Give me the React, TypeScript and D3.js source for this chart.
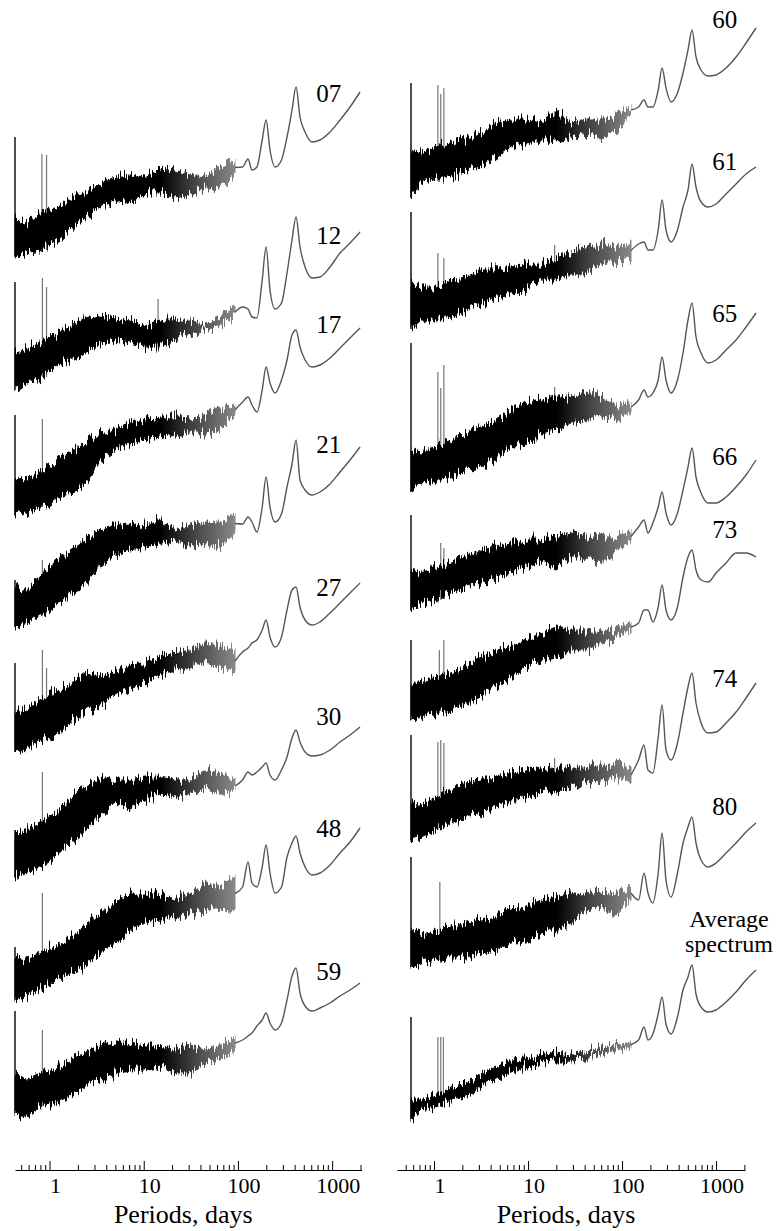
import * as d3 from 'd3';
import { useEffect, useRef } from 'react';

// periods (days) at which the noisy band was read, and the smooth part
const BAND_PERIODS = [0.43, 0.55, 0.79, 1.14, 1.65, 2.38, 3.44, 4.96, 7.16, 10.3, 14.9, 21.5, 31.0, 44.8, 64.6, 93.1];
const LINE_PERIODS = [112, 128, 141, 159, 181, 199, 219, 248, 290, 332, 375, 414, 456, 516, 612, 744, 950, 1213, 1549, 1977];

// spectrum levels in arbitrary log units, relative to each trace's own offset
const lo07 = [-1.7, -1.3, -1.0, -0.2, 1.0, 2.3, 3.2, 4.0, 3.7, 4.7, 4.7, 4.2, 4.5, 5.2, 5.3, 6.5];
const hi07 = [2.0, 1.7, 2.7, 3.0, 4.0, 4.8, 5.7, 6.3, 6.5, 6.3, 7.2, 7.0, 6.5, 6.3, 7.3, 8.0];
const line07 = [7.3, 8.1, 7.0, 7.3, 10.0, 12.0, 9.0, 7.3, 8.0, 10.3, 13.0, 15.3, 12.3, 10.8, 9.8, 10.0, 10.8, 12.0, 13.3, 14.8];
const spikes07 = [[0.43, 10.3], [0.83, 8.6], [0.93, 8.5]];

const lo12 = [-2.0, -1.3, -0.7, 0.3, 1.0, 1.7, 2.7, 3.0, 2.7, 2.3, 2.3, 3.0, 3.5, 4.0, 4.5, 5.3];
const hi12 = [1.8, 2.0, 2.7, 3.5, 4.3, 5.2, 5.5, 5.2, 5.0, 4.3, 5.0, 5.0, 5.0, 4.5, 5.2, 6.3];
const line12 = [6.3, 6.1, 5.3, 5.2, 9.0, 12.3, 8.0, 6.1, 6.7, 9.7, 13.0, 15.3, 12.3, 10.3, 9.2, 9.3, 10.3, 11.7, 12.7, 13.8];
const spikes12 = [[0.43, 8.8], [0.84, 9.2], [0.93, 8.3], [14.2, 7.1]];

const lo17 = [-1.8, -1.5, -1.0, -0.3, 0.4, 1.0, 3.7, 4.7, 5.4, 5.7, 6.0, 6.4, 6.4, 6.4, 6.7, 8.2];
const hi17 = [1.9, 1.7, 2.4, 3.4, 4.4, 5.4, 6.4, 6.7, 7.4, 7.7, 8.0, 8.0, 7.9, 8.0, 8.9, 9.2];
const line17 = [9.5, 10.0, 9.2, 8.5, 10.7, 13.0, 11.4, 10.4, 11.7, 13.7, 16.2, 16.7, 15.0, 13.7, 13.0, 13.2, 13.9, 14.9, 15.9, 16.9];
const spikes17 = [[0.43, 8.2], [0.84, 7.8]];

const lo21 = [-2.0, -1.7, -0.7, 0.0, 1.3, 2.3, 4.0, 5.3, 5.7, 6.0, 6.3, 6.5, 6.0, 6.3, 6.0, 7.7];
const hi21 = [2.0, 1.7, 3.0, 4.3, 5.7, 6.7, 7.7, 8.2, 8.3, 8.0, 8.7, 7.7, 8.2, 8.5, 8.5, 9.0];
const line21 = [8.3, 9.0, 8.5, 7.5, 10.0, 13.0, 10.0, 8.5, 9.3, 12.0, 14.3, 16.7, 12.7, 11.7, 11.2, 11.5, 12.3, 13.5, 14.7, 16.0];
const spikes21 = [[0.43, 2.7], [0.84, 4.7]];

const lo27 = [-2.0, -1.8, -0.8, -0.5, 0.9, 1.9, 2.7, 3.7, 4.4, 5.0, 5.7, 6.2, 6.5, 6.9, 6.5, 6.0];
const hi27 = [1.9, 2.2, 3.2, 3.9, 4.9, 5.9, 5.6, 5.9, 6.5, 6.9, 7.5, 7.9, 8.2, 8.9, 8.5, 8.2];
const line27 = [8.0, 8.4, 8.9, 9.2, 10.2, 11.2, 9.5, 8.5, 9.5, 12.2, 14.2, 14.5, 12.5, 11.2, 10.7, 11.0, 11.9, 12.9, 13.9, 14.9];
const spikes27 = [[0.43, 6.9], [0.84, 8.2], [0.93, 6.4]];

const lo30 = [-2.2, -1.8, -1.2, -0.2, 1.2, 2.5, 3.8, 5.2, 4.8, 5.5, 6.2, 5.8, 6.2, 6.8, 6.2, 6.3];
const hi30 = [2.2, 2.5, 3.2, 4.2, 5.5, 6.8, 7.8, 7.5, 7.5, 7.8, 7.8, 7.5, 7.5, 8.5, 8.2, 7.5];
const line30 = [7.5, 8.3, 8.0, 8.3, 8.8, 9.2, 8.0, 7.5, 8.5, 9.8, 11.7, 12.5, 11.3, 10.3, 9.9, 10.0, 10.5, 11.3, 12.0, 12.8];
const spikes30 = [[0.43, 2.5], [0.84, 8.3]];

const lo48 = [-2.2, -1.9, -1.2, -0.2, 0.5, 1.1, 2.5, 3.5, 4.8, 5.6, 5.8, 6.1, 6.5, 6.8, 7.1, 6.8];
const hi48 = [2.1, 1.8, 2.5, 3.1, 4.1, 5.1, 6.5, 7.5, 8.5, 8.5, 8.3, 7.8, 8.5, 9.5, 8.8, 10.1];
const line48 = [9.1, 11.6, 9.5, 9.1, 11.1, 13.3, 10.5, 8.5, 9.1, 12.1, 13.5, 14.2, 12.5, 11.1, 10.3, 10.5, 11.3, 12.5, 13.6, 15.0];
const spikes48 = [[0.43, 3.1], [0.84, 8.5]];

const lo59 = [-2.0, -2.3, -1.3, -1.0, -0.3, 0.7, 1.3, 2.0, 2.3, 2.3, 2.7, 2.0, 2.0, 3.0, 3.3, 4.3];
const hi59 = [2.0, 1.3, 2.0, 2.3, 3.3, 4.0, 4.7, 5.0, 5.0, 4.7, 4.7, 4.3, 4.7, 4.3, 4.7, 5.7];
const line59 = [5.3, 5.7, 6.0, 6.7, 7.3, 8.0, 7.0, 6.3, 7.0, 9.3, 11.7, 12.5, 10.0, 8.7, 8.2, 8.5, 9.0, 9.7, 10.3, 11.0];
const spikes59 = [[0.43, 8.2], [0.84, 6.3]];

const lo60 = [-2.7, -1.3, -0.7, -0.7, 0.0, 0.3, 1.3, 2.3, 2.7, 3.0, 3.0, 3.3, 3.7, 3.3, 3.7, 5.7];
const hi60 = [2.0, 1.7, 2.3, 2.7, 3.0, 3.7, 4.7, 5.0, 5.0, 4.7, 5.7, 4.7, 5.0, 5.0, 5.3, 6.3];
const line60 = [6.3, 7.0, 6.3, 6.3, 8.0, 10.2, 8.2, 6.8, 7.7, 9.7, 12.0, 14.0, 11.3, 10.0, 9.4, 9.5, 10.2, 11.3, 12.7, 14.2];
const spikes60 = [[0.43, 8.7], [0.83, 8.5], [0.89, 7.6], [0.96, 8.2], [14.4, 5.9]];

const lo61 = [-2.2, -1.3, -1.3, -1.0, -0.3, 0.3, 1.0, 1.3, 1.7, 2.7, 2.7, 3.3, 3.3, 4.3, 4.5, 5.0];
const hi61 = [2.3, 2.0, 2.0, 2.7, 3.0, 3.7, 3.7, 4.0, 4.3, 4.3, 5.0, 5.5, 6.0, 6.2, 6.0, 6.3];
const line61 = [6.3, 6.5, 5.7, 5.7, 7.7, 10.7, 7.7, 6.5, 7.7, 10.0, 11.7, 14.3, 12.0, 10.5, 10.0, 10.3, 11.3, 12.3, 13.3, 14.0];
const spikes61 = [[0.43, 9.5], [0.83, 5.4], [0.96, 4.9], [14.4, 6.2]];

const lo65 = [-2.1, -1.2, -0.9, -0.6, 0.1, 0.4, 1.4, 2.4, 2.8, 3.8, 4.1, 4.8, 5.1, 5.6, 5.1, 6.0];
const hi65 = [2.1, 1.8, 2.4, 3.1, 3.8, 4.4, 5.1, 6.1, 6.8, 7.1, 7.4, 7.4, 7.8, 7.4, 6.6, 6.8];
const line65 = [7.1, 8.1, 7.4, 7.8, 9.1, 11.4, 9.1, 7.8, 9.1, 11.8, 15.1, 16.8, 13.4, 11.8, 10.8, 11.1, 12.1, 13.1, 14.4, 15.8];
const spikes65 = [[0.43, 12.8], [0.83, 9.9], [0.89, 8.3], [0.96, 10.6], [14.4, 8.4]];

const lo66 = [-2.0, -1.3, -1.0, -0.3, 0.3, 0.7, 1.3, 1.7, 2.3, 2.7, 2.3, 3.3, 3.3, 2.7, 4.0, 4.7];
const hi66 = [2.0, 1.7, 2.3, 3.0, 3.3, 4.0, 4.3, 4.7, 5.0, 5.0, 5.3, 5.7, 5.3, 5.3, 5.3, 6.0];
const line66 = [6.3, 7.0, 5.7, 6.7, 8.3, 9.8, 7.7, 6.5, 7.7, 10.0, 12.3, 14.2, 11.3, 9.7, 8.7, 8.7, 9.3, 10.3, 11.5, 13.0];
const spikes66 = [[0.43, 7.5], [0.89, 4.7], [0.96, 4.2], [19.6, 5.8]];

const lo73 = [-1.9, -1.6, -1.2, -0.9, -0.2, 0.4, 1.4, 2.4, 3.4, 4.1, 4.4, 5.1, 5.1, 5.8, 6.1, 7.1];
const hi73 = [1.8, 1.8, 2.4, 2.8, 3.4, 4.4, 5.1, 5.4, 6.1, 6.8, 7.4, 7.1, 7.1, 6.8, 7.4, 7.7];
const line73 = [7.8, 9.1, 9.1, 7.9, 9.4, 11.6, 9.1, 8.1, 9.4, 12.4, 14.4, 15.1, 13.1, 12.1, 11.9, 12.8, 13.8, 14.8, 14.8, 14.4];
const spikes73 = [[0.43, 6.1], [0.86, 5.1], [0.96, 6.1]];

const lo74 = [-2.0, -1.7, -1.0, -0.3, 0.3, 0.7, 1.3, 2.0, 2.3, 2.7, 3.0, 3.3, 3.7, 4.0, 4.3, 3.7];
const hi74 = [2.0, 1.3, 2.3, 3.0, 3.7, 4.0, 4.3, 4.7, 5.0, 5.3, 5.0, 5.3, 5.3, 5.3, 5.7, 5.3];
const line74 = [6.0, 7.5, 5.0, 4.7, 8.3, 11.5, 7.0, 6.0, 7.7, 10.7, 13.3, 14.7, 11.7, 9.7, 8.7, 8.8, 9.7, 10.8, 12.2, 13.7];
const spikes74 = [[0.43, 8.5], [0.83, 7.8], [0.89, 8.0], [0.96, 7.7], [14.4, 6.2]];

const lo80 = [-1.9, -1.5, -1.2, -0.9, -0.9, -0.5, -0.2, 0.5, 0.8, 1.5, 1.8, 2.5, 3.5, 4.1, 3.3, 5.0];
const hi80 = [1.8, 1.5, 1.8, 2.1, 2.5, 2.8, 3.1, 3.8, 4.1, 4.8, 5.1, 5.5, 5.5, 5.8, 5.5, 6.0];
const line80 = [4.8, 7.5, 5.5, 4.5, 7.5, 11.5, 6.8, 5.1, 7.5, 10.5, 12.1, 13.1, 10.5, 8.8, 8.1, 8.5, 9.5, 10.5, 11.6, 12.5];
const spikes80 = [[0.43, 9.1], [0.87, 6.6]];

const loAvg = [-1.2, -0.3, 0.0, 0.7, 1.0, 2.0, 2.8, 3.5, 4.0, 4.3, 4.7, 4.7, 4.8, 5.3, 5.7, 6.0];
const hiAvg = [0.7, 0.7, 1.3, 1.7, 2.3, 3.3, 4.0, 4.7, 4.8, 5.2, 5.5, 5.3, 5.5, 6.0, 6.2, 6.5];
const lineAvg = [6.7, 8.0, 6.7, 7.3, 9.3, 11.0, 8.3, 7.3, 9.0, 11.7, 13.0, 14.2, 11.3, 10.0, 9.5, 9.7, 10.5, 11.5, 12.7, 13.7];
const spikesAvg = [[0.43, 9.0], [0.83, 7.0], [0.89, 7.0], [0.95, 7.0]];

// stacking: column, offset of the trace, label lines and label level
const SPECTRA = [
  { col: 0, offset: 91.0, lo: lo07, hi: hi07, line: line07, spikes: spikes07, label: ['07'], labelAt: 13.8 },
  { col: 0, offset: 78.0, lo: lo12, hi: hi12, line: line12, spikes: spikes12, label: ['12'], labelAt: 12.6 },
  { col: 0, offset: 65.3, lo: lo17, hi: hi17, line: line17, spikes: spikes17, label: ['17'], labelAt: 16.4 },
  { col: 0, offset: 54.3, lo: lo21, hi: hi21, line: line21, spikes: spikes21, label: ['21'], labelAt: 15.4 },
  { col: 0, offset: 41.8, lo: lo27, hi: hi27, line: line27, spikes: spikes27, label: ['27'], labelAt: 13.6 },
  { col: 0, offset: 29.5, lo: lo30, hi: hi30, line: line30, spikes: spikes30, label: ['30'], labelAt: 13.0 },
  { col: 0, offset: 17.2, lo: lo48, hi: hi48, line: line48, spikes: spikes48, label: ['48'], labelAt: 14.1 },
  { col: 0, offset: 5.7, lo: lo59, hi: hi59, line: line59, spikes: spikes59, label: ['59'], labelAt: 11.3 },
  { col: 1, offset: 98.0, lo: lo60, hi: hi60, line: line60, spikes: spikes60, label: ['60'], labelAt: 14.2 },
  { col: 1, offset: 84.3, lo: lo61, hi: hi61, line: line61, spikes: spikes61, label: ['61'], labelAt: 13.7 },
  { col: 1, offset: 67.9, lo: lo65, hi: hi65, line: line65, spikes: spikes65, label: ['65'], labelAt: 14.9 },
  { col: 1, offset: 56.0, lo: lo66, hi: hi66, line: line66, spikes: spikes66, label: ['66'], labelAt: 12.5 },
  { col: 1, offset: 44.9, lo: lo73, hi: hi73, line: line73, spikes: spikes73, label: ['73'], labelAt: 16.3 },
  { col: 1, offset: 33.0, lo: lo74, hi: hi74, line: line74, spikes: spikes74, label: ['74'], labelAt: 13.3 },
  { col: 1, offset: 20.2, lo: lo80, hi: hi80, line: line80, spikes: spikes80, label: ['80'], labelAt: 13.3 },
  { col: 1, offset: 4.3, lo: loAvg, hi: hiAvg, line: lineAvg, spikes: spikesAvg, label: ['Average', 'spectrum'], labelAt: 18.0 },
];

const MAJOR_TICKS = [1, 10, 100, 1000];
const MINOR_TICKS = [0.5, 0.6, 0.7, 0.8, 0.9, 2, 3, 4, 5, 6, 7, 8, 9, 20, 30, 40, 50, 60, 70, 80, 90,
  200, 300, 400, 500, 600, 700, 800, 900, 2000];
const TICK_LABELS = ['1', '10', '100', '1000'];

const FONT = '"Liberation Serif", "Times New Roman", serif';

const App = () => {
  const svgRef = useRef(null);

  useEffect(() => {
    const svg = d3.select(svgRef.current);
    svg.selectAll('*').remove();

    const y = d3.scaleLinear().domain([0, 110]).range([1150, 50]);
    // the traces of the right panel sit a little to the right of its axis in the original
    const traceX = [
      d3.scaleLog().domain([0.43, 2050]).range([15, 361.5]),
      d3.scaleLog().domain([0.43, 2050]).range([411, 757.5]),
    ];
    const axisX = [
      d3.scaleLog().domain([0.43, 2050]).range([15, 361.5]),
      d3.scaleLog().domain([0.404, 2030]).range([397, 745]),
    ];

    const defs = svg.append('defs');
    traceX.forEach((x, c) => {
      const grad = defs.append('linearGradient')
        .attr('id', `fade${c}`)
        .attr('gradientUnits', 'userSpaceOnUse')
        .attr('x1', x(15)).attr('x2', x(95))
        .attr('y1', 0).attr('y2', 0);
      grad.append('stop').attr('offset', '0%').attr('stop-color', '#000');
      grad.append('stop').attr('offset', '45%').attr('stop-color', '#444');
      grad.append('stop').attr('offset', '100%').attr('stop-color', '#8a8a8a');
    });

    // ragged edge for the noisy band (vertical jitter only, a drawing style)
    const rough = defs.append('filter')
      .attr('id', 'rough')
      .attr('filterUnits', 'userSpaceOnUse')
      .attr('x', 0).attr('y', 0).attr('width', 778).attr('height', 1231)
      .attr('color-interpolation-filters', 'sRGB');
    rough.append('feTurbulence')
      .attr('type', 'fractalNoise')
      .attr('baseFrequency', '0.55 0.04')
      .attr('numOctaves', 2)
      .attr('seed', 7)
      .attr('result', 'noise');
    rough.append('feColorMatrix')
      .attr('in', 'noise')
      .attr('type', 'matrix')
      .attr('values', '0 0 0 0 0.5  0 1 0 0 0  0 0 1 0 0  0 0 0 0 1')
      .attr('result', 'shift');
    rough.append('feDisplacementMap')
      .attr('in', 'SourceGraphic')
      .attr('in2', 'shift')
      .attr('scale', 22)
      .attr('xChannelSelector', 'R')
      .attr('yChannelSelector', 'G');

    SPECTRA.forEach(s => {
      const x = traceX[s.col];
      const g = svg.append('g');
      const idx = BAND_PERIODS.map((_, i) => i);

      // spikes (drawn first so the band covers their feet)
      s.spikes.forEach(([p, top], k) => {
        const i = d3.minIndex(BAND_PERIODS, q => Math.abs(Math.log(q) - Math.log(p)));
        g.append('line')
          .attr('x1', x(p)).attr('x2', x(p))
          .attr('y1', y(s.offset + top))
          .attr('y2', y(s.offset + s.lo[i]))
          .attr('stroke', k === 0 ? '#222' : '#777')
          .attr('stroke-width', k === 0 ? 1.6 : 1.2);
      });

      const area = d3.area<number>()
        .x(i => x(BAND_PERIODS[i]))
        .y0(i => y(s.offset + s.lo[i]))
        .y1(i => y(s.offset + s.hi[i]));
      g.append('path')
        .attr('d', area(idx))
        .attr('fill', `url(#fade${s.col})`)
        .attr('stroke', `url(#fade${s.col})`)
        .attr('stroke-width', 1)
        .attr('filter', 'url(#rough)');

      const last = BAND_PERIODS.length - 1;
      const pts: [number, number][] = [[BAND_PERIODS[last], (s.lo[last] + s.hi[last]) / 2]];
      LINE_PERIODS.forEach((p, i) => pts.push([p, s.line[i]]));
      const line = d3.line<[number, number]>()
        .x(d => x(d[0]))
        .y(d => y(s.offset + d[1]))
        .curve(d3.curveMonotoneX);
      g.append('path')
        .attr('d', line(pts))
        .attr('fill', 'none')
        .attr('stroke', '#555')
        .attr('stroke-width', 1.4);

      const multi = s.label.length > 1;
      const lx = multi ? x(1020) : x(680);
      s.label.forEach((l, k) => {
        svg.append('text')
          .attr('x', lx)
          .attr('y', y(s.offset + s.labelAt) + k * 25)
          .attr('text-anchor', multi ? 'middle' : 'start')
          .style('font-family', FONT)
          .style('font-size', multi ? '24px' : '25px')
          .style('fill', '#000')
          .text(l);
      });
    });

    // axes
    const AXIS_Y = 1170;
    axisX.forEach(ax => {
      const minor = svg.append('g').attr('transform', `translate(0, ${AXIS_Y})`)
        .call(d3.axisTop(ax).tickValues(MINOR_TICKS).tickSize(5).tickSizeOuter(0).tickFormat(() => ''));
      minor.select('.domain').attr('stroke-width', 1.2);
      const major = svg.append('g').attr('transform', `translate(0, ${AXIS_Y})`)
        .call(d3.axisTop(ax).tickValues(MAJOR_TICKS).tickSize(9).tickSizeOuter(0).tickFormat(() => ''));
      major.select('.domain').remove();

      svg.append('g')
        .selectAll('text')
        .data(MAJOR_TICKS)
        .enter()
        .append('text')
        .attr('x', (d: number) => ax(d) + 6)
        .attr('y', 1193)
        .attr('text-anchor', 'middle')
        .style('font-family', FONT)
        .style('font-size', '22px')
        .text((_: number, i: number) => TICK_LABELS[i]);

      const [r0, r1] = ax.range();
      svg.append('text')
        .attr('x', (r0 + r1) / 2 - 5)
        .attr('y', 1223)
        .attr('text-anchor', 'middle')
        .style('font-family', FONT)
        .style('font-size', '26px')
        .text('Periods, days');
    });
  }, []);

  return (
    <svg ref={svgRef} width={778} height={1231}
      style={{ position: 'absolute', left: 0, top: 0, background: '#fff' }}></svg>
  );
};

export default App;
